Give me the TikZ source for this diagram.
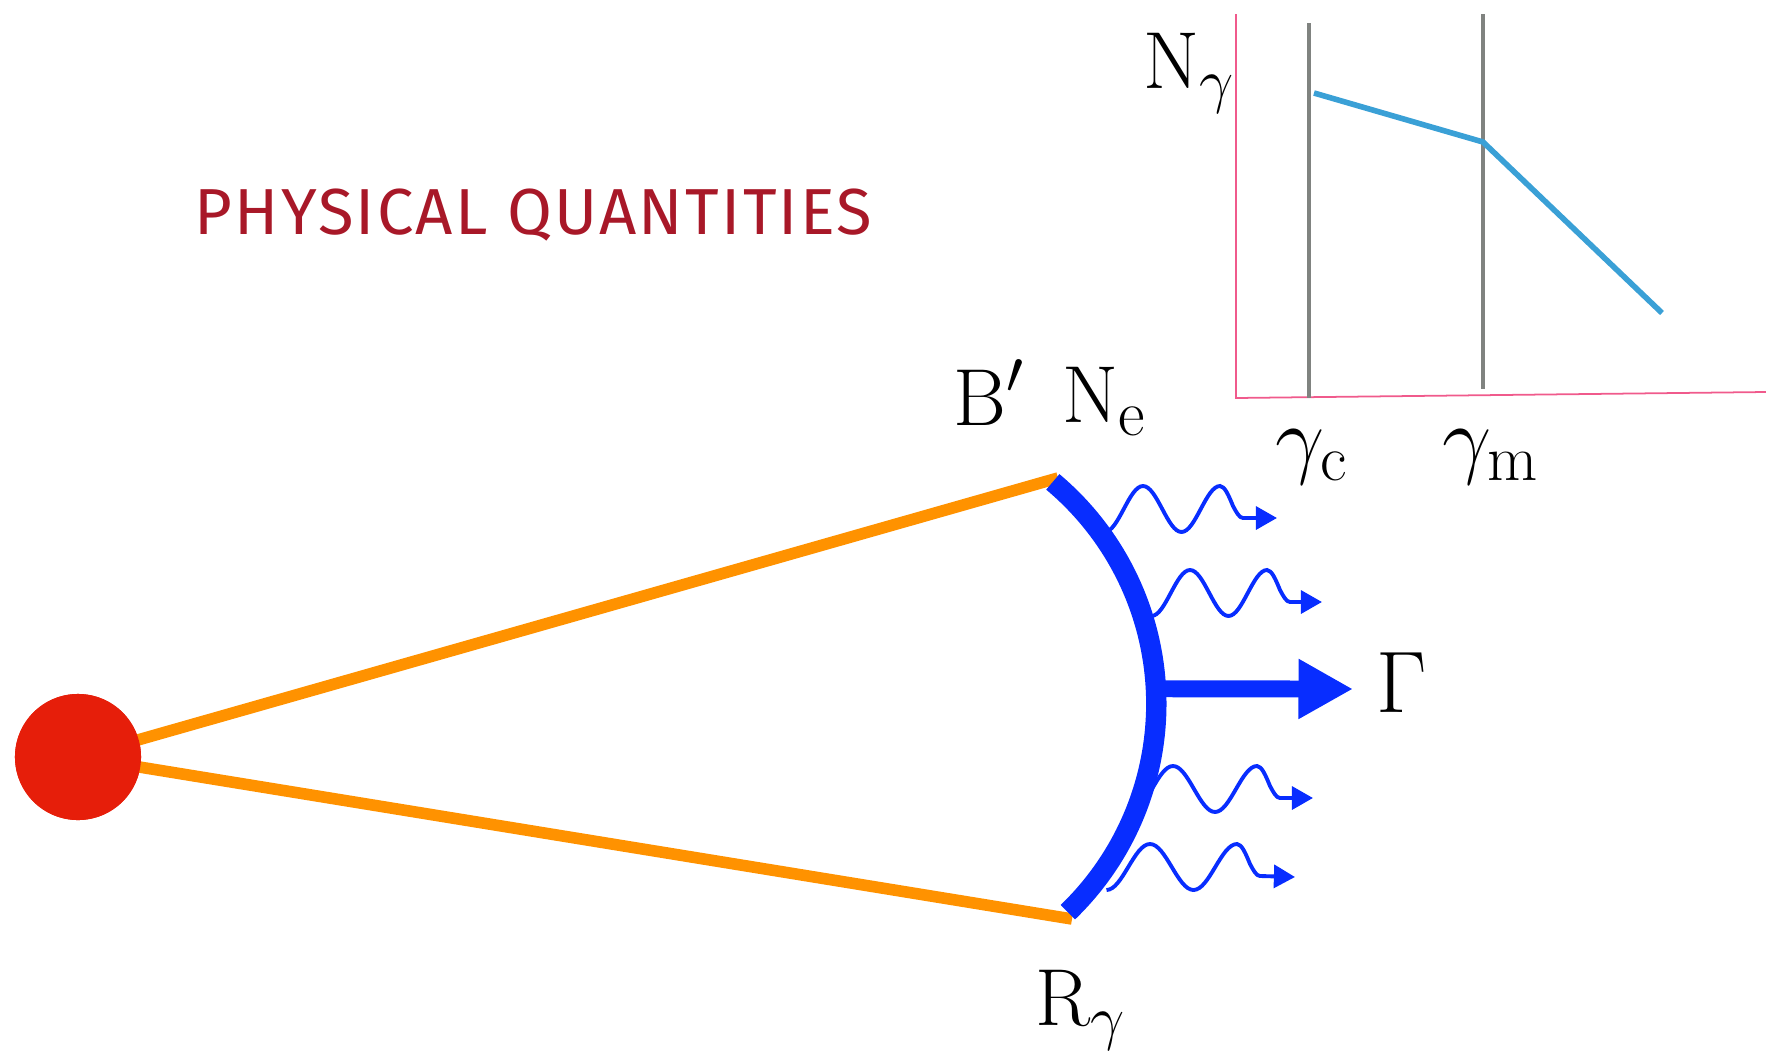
\documentclass[tikz,border=0pt]{standalone}
\usepackage{fontspec}
\newfontfamily\titlefont[LetterSpace=3.5]{Fira Sans}
\usetikzlibrary{arrows.meta, positioning, calc}
\DeclareMathSizes{23}{23}{18.5}{14}
\definecolor{JetOrange}{RGB}{255,146,0}
\definecolor{SourceRed}{RGB}{230,30,10}
\definecolor{ShockBlue}{RGB}{8,45,255}
\definecolor{TitleRed}{RGB}{168,24,40}
\definecolor{AxisPink}{RGB}{240,90,140}
\definecolor{MarkGrey}{RGB}{128,131,128}
\definecolor{SpecBlue}{RGB}{58,160,214}

\begin{document}
\begin{tikzpicture}[x=0.01cm, y=0.01cm,
    lbl/.style={inner sep=0pt, anchor=base west, font=\fontsize{23}{28}\selectfont},
    jet/.style={JetOrange, line width=3.3pt},
    shock/.style={ShockBlue, line width=5.8pt},
    photon/.style={ShockBlue, line width=1.1pt, -{Triangle[length=6pt,width=6.5pt]}},
    bulk/.style={ShockBlue, line width=4.8pt, -{Triangle[length=15.5pt,width=16pt]}},
    ax/.style={AxisPink, line width=0.5pt},
    brk/.style={MarkGrey, line width=1.2pt},
    spec/.style={SpecBlue, line width=1.6pt, line join=round}
  ]
  \useasboundingbox (0,0) rectangle (1766,1050);

  % title
  \node[font=\titlefont\fontsize{18.5}{22}\selectfont, text=TitleRed,
        inner sep=0pt, anchor=base west] (title) at (194,816) {PHYSICAL QUANTITIES};

  % spectrum inset
  \draw[ax] (1236,1036) -- (1236,652) -- (1766,658);
  \draw[brk] (1309,1027) -- (1309,652);
  \draw[brk] (1483,1036) -- (1483,661);
  \draw[spec] (1314,957) -- (1483,908) -- (1662,737);
  \node[lbl] (ngam) at (1143,962) {$\mathrm{N}_\gamma$};
  \node[lbl] (gc) at (1275,583) {$\gamma_\mathrm{c}$};
  \node[lbl] (gm) at (1442,583) {$\gamma_\mathrm{m}$};

  % source and jet
  \coordinate (ctr) at (866.6,346.2);
  \coordinate (shtop) at ($(ctr)+(50:289.7)$);
  \coordinate (shbot) at ($(ctr)+(-46:289.7)$);
  \coordinate (jtop) at (1058,572);
  \coordinate (jbot) at (1072,131);
  \node[circle, fill=SourceRed, inner sep=0pt, minimum size=1.26cm] (src) at (78,293) {};
  \draw[jet] (src.center) -- (jtop);
  \draw[jet] (src.center) -- (jbot);
  \node[circle, fill=SourceRed, inner sep=0pt, minimum size=1.26cm] at (src) {};

  % emitted photons
  \foreach \sx/\sy/\q/\tx/\ty in {1104.5/518/19.25/1277/532, 1151.5/434/19.25/1322/448,
                                  1131/238/21/1313/252, 1106.5/160/21.75/1295/173}{
    \coordinate (ws) at (\sx,\sy);
    \coordinate (wt) at (\tx,\ty);
    \draw[photon] (ws) cos ++(\q,23) sin ++(\q,23) cos ++(\q,-23) sin ++(\q,-23)
      cos ++(\q,23) sin ++(\q,23) cos ++(13,-20) sin ++(10,-12) -- (wt);
  }

  % shock front
  \draw[shock] (shtop) arc[start angle=50, end angle=-46, radius=289.7];
  \coordinate (gbase) at ($(ctr)+(3:287)$);
  \coordinate (gtip) at (1353,361);
  \draw[bulk] (gbase) -- (gtip);

  \node[lbl] (bprime) at (953,625) {$\mathrm{B}'$};
  \node[lbl] (ne) at (1062,628) {$\mathrm{N}_\mathrm{e}$};
  \node[lbl] (gam) at (1376,338) {$\Gamma$};
  \node[lbl] (rgam) at (1035,25) {$\mathrm{R}_\gamma$};
\end{tikzpicture}
\end{document}
